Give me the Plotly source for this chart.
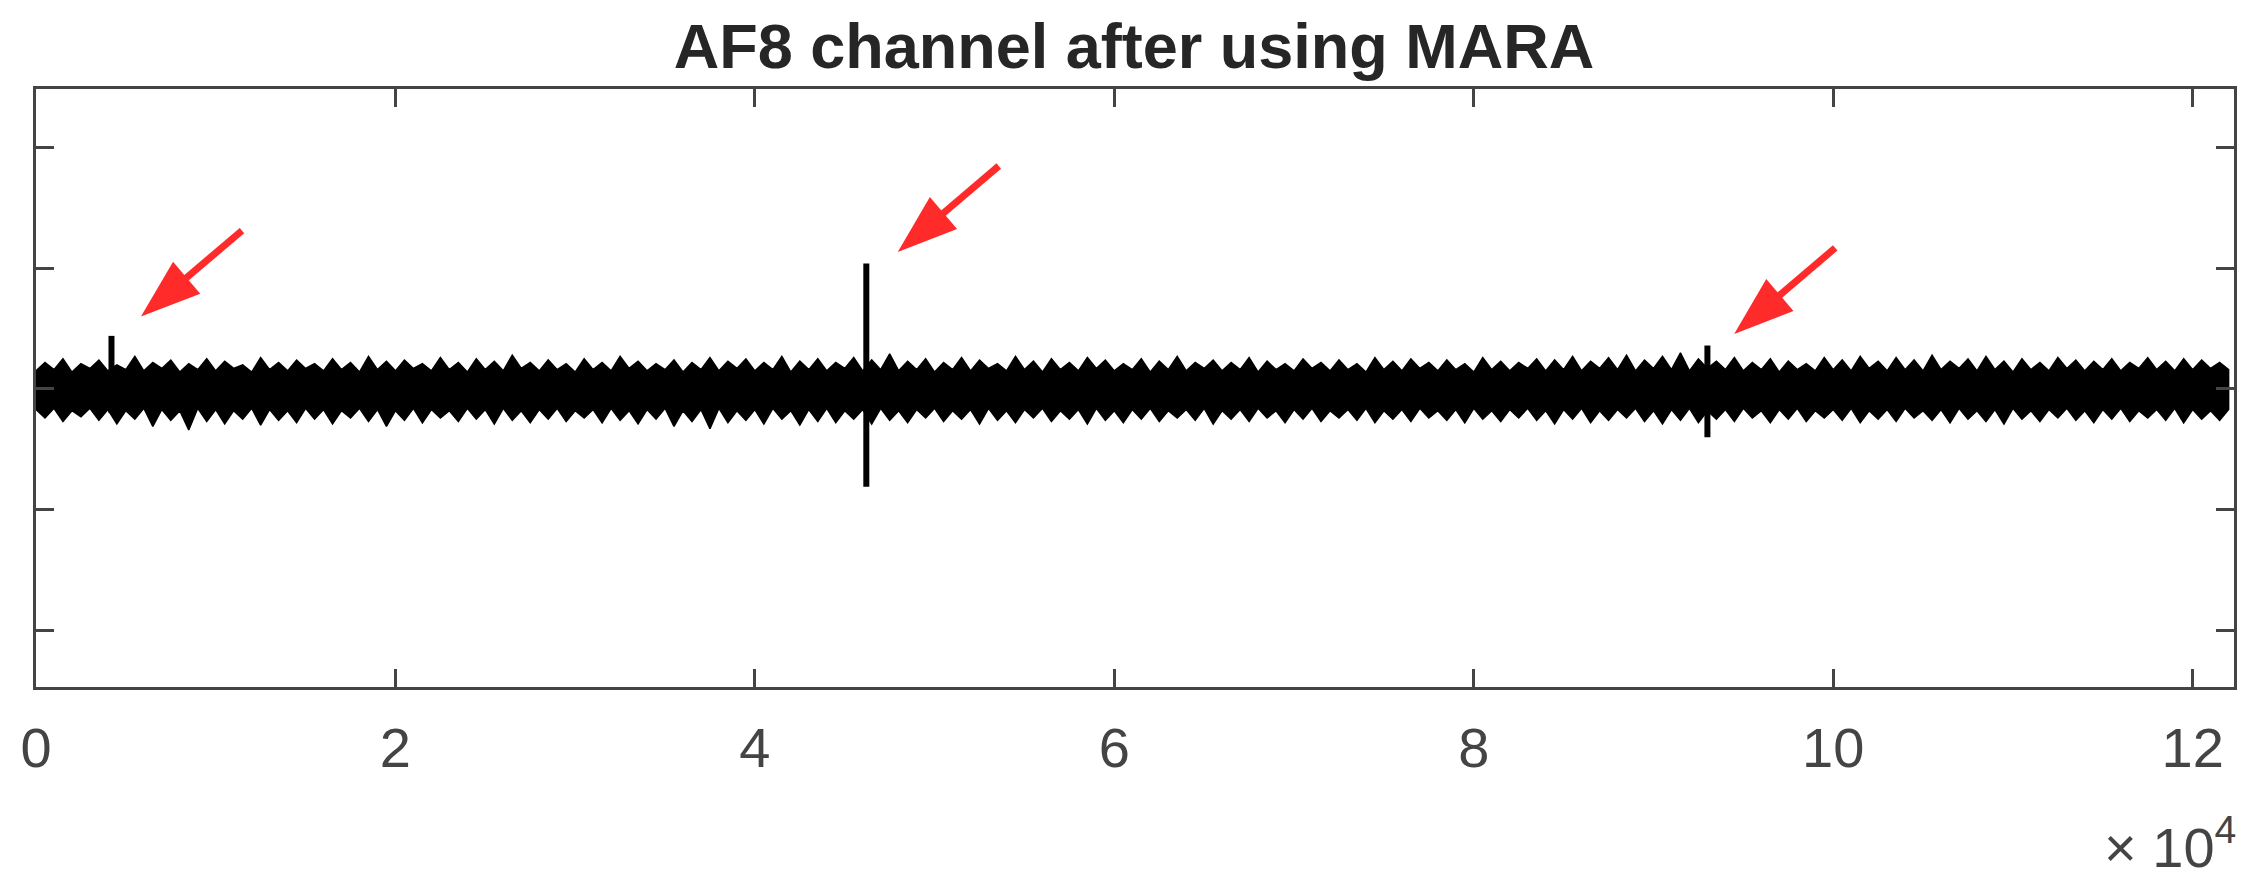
import plotly.graph_objects as go

# sample positions of the envelope readings (every 500 samples)
sample_x = list(range(0, 122500, 500))

# upper / lower edge of the noise band (tick units)
upper_env = [
    0.15, 0.22, 0.16, 0.25, 0.14, 0.21, 0.17, 0.24, 0.15, 0.20,
    0.16, 0.27, 0.15, 0.22, 0.17, 0.24, 0.14, 0.21, 0.16, 0.25,
    0.15, 0.23, 0.17, 0.20, 0.14, 0.26, 0.16, 0.22, 0.15, 0.24,
    0.17, 0.21, 0.15, 0.25, 0.16, 0.22, 0.14, 0.27, 0.16, 0.23,
    0.15, 0.24, 0.17, 0.21, 0.15, 0.26, 0.16, 0.22, 0.14, 0.25,
    0.16, 0.23, 0.15, 0.28, 0.17, 0.22, 0.15, 0.24, 0.16, 0.21,
    0.14, 0.25, 0.16, 0.22, 0.15, 0.27, 0.17, 0.23, 0.15, 0.21,
    0.16, 0.24, 0.14, 0.22, 0.16, 0.26, 0.15, 0.23, 0.17, 0.25,
    0.15, 0.22, 0.16, 0.27, 0.14, 0.23, 0.16, 0.25, 0.15, 0.22,
    0.17, 0.26, 0.15, 0.24, 0.16, 0.29, 0.15, 0.23, 0.16, 0.25,
    0.14, 0.22, 0.16, 0.26, 0.15, 0.24, 0.17, 0.21, 0.15, 0.27,
    0.16, 0.23, 0.14, 0.25, 0.16, 0.22, 0.15, 0.26, 0.17, 0.24,
    0.15, 0.21, 0.16, 0.25, 0.14, 0.23, 0.16, 0.27, 0.15, 0.22,
    0.17, 0.24, 0.15, 0.22, 0.16, 0.26, 0.14, 0.23, 0.16, 0.21,
    0.15, 0.25, 0.17, 0.22, 0.15, 0.24, 0.16, 0.21, 0.14, 0.26,
    0.16, 0.23, 0.15, 0.25, 0.17, 0.22, 0.15, 0.24, 0.16, 0.21,
    0.14, 0.26, 0.16, 0.23, 0.15, 0.22, 0.17, 0.25, 0.15, 0.24,
    0.16, 0.27, 0.15, 0.23, 0.17, 0.26, 0.16, 0.28, 0.15, 0.24,
    0.17, 0.27, 0.16, 0.30, 0.15, 0.25, 0.17, 0.23, 0.16, 0.26,
    0.15, 0.22, 0.16, 0.25, 0.14, 0.23, 0.16, 0.21, 0.15, 0.26,
    0.16, 0.24, 0.15, 0.27, 0.17, 0.23, 0.15, 0.26, 0.16, 0.24,
    0.15, 0.28, 0.16, 0.23, 0.17, 0.25, 0.15, 0.27, 0.16, 0.23,
    0.14, 0.25, 0.16, 0.22, 0.15, 0.26, 0.17, 0.24, 0.15, 0.23,
    0.16, 0.25, 0.15, 0.22, 0.17, 0.26, 0.16, 0.23, 0.15, 0.25,
    0.16, 0.24, 0.17, 0.22, 0.16,
]
lower_env = [
    -0.17, -0.24, -0.16, -0.27, -0.18, -0.23, -0.16, -0.26, -0.17, -0.29,
    -0.18, -0.25, -0.16, -0.31, -0.17, -0.26, -0.18, -0.34, -0.16, -0.27,
    -0.17, -0.29, -0.18, -0.25, -0.16, -0.30, -0.17, -0.26, -0.18, -0.28,
    -0.16, -0.25, -0.17, -0.29, -0.18, -0.24, -0.16, -0.27, -0.17, -0.31,
    -0.18, -0.26, -0.16, -0.28, -0.17, -0.24, -0.18, -0.27, -0.16, -0.25,
    -0.17, -0.29, -0.16, -0.26, -0.18, -0.28, -0.17, -0.25, -0.16, -0.27,
    -0.18, -0.24, -0.17, -0.28, -0.16, -0.26, -0.18, -0.29, -0.17, -0.25,
    -0.16, -0.31, -0.18, -0.27, -0.17, -0.33, -0.16, -0.28, -0.18, -0.26,
    -0.17, -0.29, -0.16, -0.25, -0.18, -0.30, -0.17, -0.27, -0.16, -0.28,
    -0.18, -0.25, -0.17, -0.29, -0.16, -0.26, -0.18, -0.28, -0.17, -0.24,
    -0.16, -0.27, -0.18, -0.25, -0.17, -0.29, -0.16, -0.26, -0.18, -0.28,
    -0.17, -0.24, -0.16, -0.27, -0.18, -0.25, -0.17, -0.29, -0.16, -0.26,
    -0.18, -0.28, -0.17, -0.25, -0.16, -0.27, -0.18, -0.24, -0.17, -0.26,
    -0.16, -0.29, -0.18, -0.25, -0.17, -0.27, -0.16, -0.24, -0.18, -0.28,
    -0.17, -0.25, -0.16, -0.27, -0.18, -0.24, -0.17, -0.26, -0.16, -0.28,
    -0.18, -0.25, -0.17, -0.27, -0.16, -0.24, -0.18, -0.26, -0.17, -0.28,
    -0.16, -0.25, -0.18, -0.27, -0.17, -0.24, -0.16, -0.26, -0.18, -0.29,
    -0.17, -0.25, -0.16, -0.28, -0.18, -0.26, -0.17, -0.24, -0.16, -0.27,
    -0.18, -0.29, -0.17, -0.26, -0.16, -0.28, -0.18, -0.25, -0.17, -0.27,
    -0.16, -0.24, -0.18, -0.28, -0.17, -0.25, -0.16, -0.27, -0.18, -0.24,
    -0.17, -0.26, -0.16, -0.28, -0.18, -0.25, -0.17, -0.27, -0.16, -0.24,
    -0.18, -0.26, -0.17, -0.28, -0.16, -0.25, -0.18, -0.27, -0.17, -0.29,
    -0.16, -0.25, -0.18, -0.27, -0.17, -0.24, -0.16, -0.26, -0.18, -0.28,
    -0.17, -0.25, -0.16, -0.27, -0.18, -0.24, -0.17, -0.26, -0.16, -0.28,
    -0.17, -0.25, -0.18, -0.26, -0.17,
]

# artefact spikes still left in the channel
spike_x = [4200, 46200, 93000]
spike_hi = [0.44, 1.04, 0.36]
spike_lo = [-0.20, -0.81, -0.40]

# red arrows pointing at the spikes (tip position)
arrow_x = [5840, 47950, 94490]
arrow_y = [0.60, 1.135, 0.456]

x_ticks = [0, 20000, 40000, 60000, 80000, 100000, 120000]
x_labels = ["0", "2", "4", "6", "8", "10", "12"]

FONT = "Liberation Sans, Arial, Helvetica, sans-serif"
AX = "#444444"
RED = "#ff2b2b"

fig = go.Figure()

### noise band
fig.add_trace(go.Scatter(
    x = sample_x + sample_x[::-1],
    y = upper_env + lower_env[::-1],
    mode = "lines", fill = "toself", fillcolor = "black",
    line = dict(color = "black", width = 1.5), hoverinfo = "skip"))

### spikes
sx, sy = [], []
for x, hi, lo in zip(spike_x, spike_hi, spike_lo):
    sx += [x, x, None]
    sy += [lo, hi, None]
fig.add_trace(go.Scatter(x = sx, y = sy, mode = "lines",
                         line = dict(color = "black", width = 6), hoverinfo = "skip"))

### arrows: head + shaft in pixel offsets from the tip (y up)
for x, y in zip(arrow_x, arrow_y):
    fig.add_shape(type = "path", xref = "x", yref = "y",
                  xsizemode = "pixel", ysizemode = "pixel", xanchor = x, yanchor = y,
                  path = "M 0 0 L 59.3 22.9 L 32.1 54.9 Z",
                  fillcolor = RED, line = dict(width = 0))
    fig.add_shape(type = "line", xref = "x", yref = "y",
                  xsizemode = "pixel", ysizemode = "pixel", xanchor = x, yanchor = y,
                  x0 = 38, y0 = 32.4, x1 = 101, y1 = 86,
                  line = dict(color = RED, width = 7))

fig.add_annotation(text = "× 10<sup>4</sup>", xref = "paper", yref = "paper",
                   x = 1.002, y = -0.261, xanchor = "right", yanchor = "middle",
                   showarrow = False, font = dict(family = FONT, size = 56, color = AX))

fig.update_layout(
    width = 2252, height = 879,
    paper_bgcolor = "white", plot_bgcolor = "white",
    showlegend = False,
    margin = dict(l = 17, r = 26, t = 81, b = 200),
    title = dict(text = "<b>AF8 channel after using MARA</b>", x = 0.5, xanchor = "center",
                 y = 1 - 38 / 879, yanchor = "middle", yref = "container",
                 font = dict(family = FONT, size = 63, color = "#262626")),
    xaxis = dict(range = [0, 122300], tickvals = x_ticks, ticktext = x_labels,
                 showgrid = False, zeroline = False, showline = True, mirror = "allticks",
                 linecolor = AX, linewidth = 3, ticks = "inside", ticklen = 18,
                 tickwidth = 3, tickcolor = AX, ticklabelstandoff = 10,
                 tickfont = dict(family = FONT, size = 56, color = AX)),
    yaxis = dict(range = [-2.47, 2.486], tickvals = [-2, -1, 0, 1, 2], showticklabels = False,
                 showgrid = False, zeroline = False, showline = True, mirror = "allticks",
                 linecolor = AX, linewidth = 3, ticks = "inside", ticklen = 18,
                 tickwidth = 3, tickcolor = AX))

fig.write_html("out.html")
